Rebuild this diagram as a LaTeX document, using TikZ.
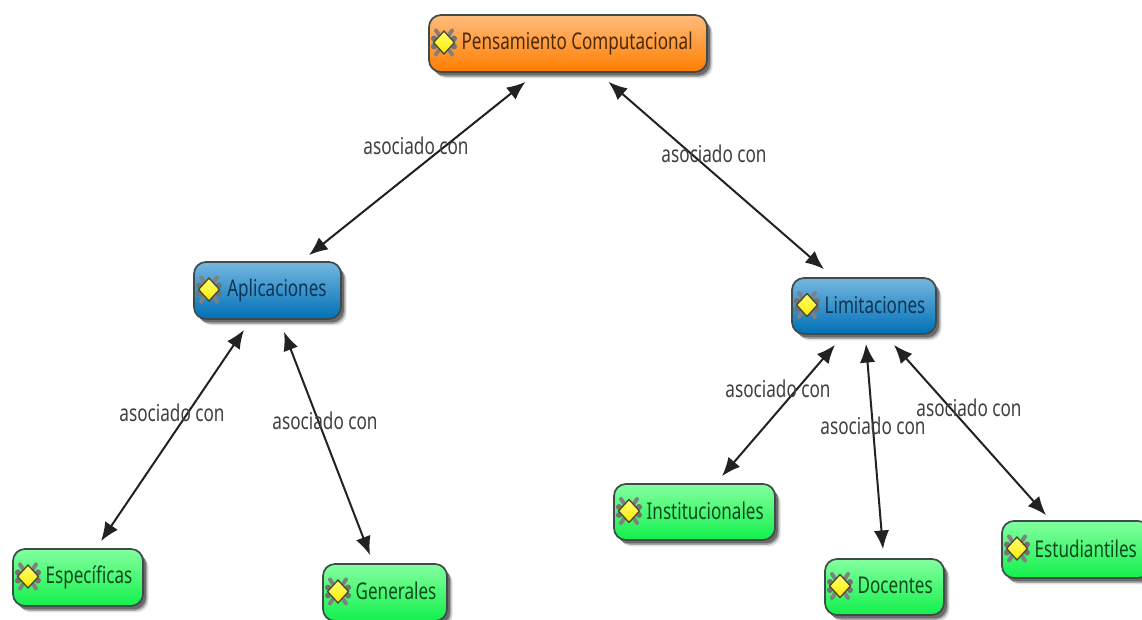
\documentclass[tikz,border=0pt]{standalone}
\usepackage{fontspec}
\setmainfont[FakeStretch=0.74]{Noto Sans}
\usetikzlibrary{arrows.meta,shadows}
\definecolor{linedark}{HTML}{222222}
\definecolor{edgedark}{HTML}{3F4A4A}
\definecolor{ortop}{HTML}{FFBC7C}
\definecolor{orbot}{HTML}{FF7D00}
\definecolor{ortext}{HTML}{4A2A08}
\definecolor{bltop}{HTML}{75B7E0}
\definecolor{blbot}{HTML}{0070B6}
\definecolor{bltext}{HTML}{0B3558}
\definecolor{grtop}{HTML}{84FF9F}
\definecolor{grbot}{HTML}{12F04C}
\definecolor{grtext}{HTML}{0C4A1E}
\tikzset{
  x=0.75pt,y=-0.75pt,
  softshadow/.style={
    general shadow={fill=black,opacity=.12,rounded corners=9pt,shadow xshift=4.2pt,shadow yshift=-4.8pt,shadow scale=1.0},
    general shadow={fill=black,opacity=.25,rounded corners=9pt,shadow xshift=3.2pt,shadow yshift=-3.6pt},
    general shadow={fill=black,opacity=.35,rounded corners=9pt,shadow xshift=2.2pt,shadow yshift=-2.6pt}},
  conceptbox/.style={draw=edgedark,line width=1.3pt,rounded corners=9pt,softshadow,inner xsep=1.5pt,inner ysep=0pt,align=flush left,font=\fontsize{17.3pt}{19pt}\selectfont},
  orangebox/.style={conceptbox,top color=ortop,bottom color=orbot,text=ortext},
  bluebox/.style={conceptbox,top color=bltop,bottom color=blbot,text=bltext},
  greenbox/.style={conceptbox,top color=grtop,bottom color=grbot,text=grtext},
  linklabel/.style={text=black!75,inner sep=0pt,font=\fontsize{17.4pt}{19pt}\selectfont},
  conn/.style={draw=linedark,line width=1.5pt,{Latex[length=14pt,width=11.5pt]}-{Latex[length=14pt,width=11.5pt]}},
  iconbar/.style={draw=black!50,line width=3pt,line cap=round},
  iconknob/.style={fill=black!55,draw=none},
  pics/cicon/.style={code={
    \draw[iconbar] (-8,-12)--(8,12);
    \draw[iconbar] (8,-12)--(-8,12);
    \fill[iconknob] (-10,-4) circle(3) (10,-4) circle(3) (-10,4) circle(3) (10,4) circle(3);
    \path[draw=black!60!olive,line width=1pt,top color=yellow!55!white,bottom color=yellow!85!orange]
      (0,-11.5)--(10.5,0)--(0,11.5)--(-10.5,0)--cycle;
  }},
}
\newcommand{\cbox}[9]{% name, style, left, top, right, bottom, text, iconoffset, raise
  \pgfmathsetmacro{\cx}{(#3+#5)/2}
  \pgfmathsetmacro{\cy}{(#4+#6)/2}
  \pgfmathsetmacro{\cw}{(#5-#3)*0.75}
  \pgfmathsetmacro{\ch}{(#6-#4)*0.75}
  \pgfmathsetmacro{\ct}{(#5-#3)*0.75-3}
  \pgfmathsetmacro{\cix}{#3+15}
  \pgfmathsetmacro{\ciy}{\cy-1}
  \node[#2,minimum width=\cw pt,minimum height=\ch pt,text width=\ct pt] (#1) at (\cx,\cy) {\hspace*{#8pt}\raisebox{#9pt}{#7}};
  \pic at (\cix,\ciy) {cicon};
}
\begin{document}
\begin{tikzpicture}
\clip (0,0) rectangle (1142,620);
\fill[white] (0,0) rectangle (1142,620);
\cbox{pc}{orangebox}{429}{15}{707}{72}{Pensamiento Computacional}{23}{1.2}
\cbox{ap}{bluebox}{194}{262}{341}{319}{Aplicaciones}{23.5}{1.2}
\cbox{lim}{bluebox}{792}{278}{936}{334}{Limitaciones}{23}{1.2}
\cbox{esp}{greenbox}{13}{549}{143}{606}{Específicas}{23}{1.2}
\cbox{gen}{greenbox}{323}{564}{447}{621}{Generales}{23}{3}
\cbox{inst}{greenbox}{614}{484}{775}{540}{Institucionales}{23}{1.2}
\cbox{doc}{greenbox}{825}{559}{944}{615}{Docentes}{23}{2}
\cbox{est}{greenbox}{1002}{521}{1150}{578}{Estudiantiles}{23}{1.2}
\draw[conn] ([shift={(-42.5,9)}]pc.south) -- ([shift={(41.5,-6)}]ap.north);
\draw[conn] ([shift={(40.5,9)}]pc.south) -- ([shift={(-40,-8)}]lim.north);
\draw[conn] ([shift={(-23.5,10)}]ap.south) -- ([shift={(23,-7)}]esp.north);
\draw[conn] ([shift={(16.5,12)}]ap.south) -- ([shift={(-15,-8)}]gen.north);
\draw[conn] ([shift={(-29,10)}]lim.south) -- ([shift={(27.5,-7)}]inst.north);
\draw[conn] ([shift={(2,9)}]lim.south) -- ([shift={(-1.5,-9)}]doc.north);
\draw[conn] ([shift={(30,10)}]lim.south) -- ([shift={(-30,-5)}]est.north);
\node[linklabel] (l1) at (416,146) {asociado con};
\node[linklabel] (l2) at (714,154) {asociado con};
\node[linklabel] (l3) at (172,413) {asociado con};
\node[linklabel] (l4) at (325,421) {asociado con};
\node[linklabel] (l5) at (778,389) {asociado con};
\node[linklabel] (l6) at (873,426) {asociado con};
\node[linklabel] (l7) at (969,408) {asociado con};
\end{tikzpicture}
\end{document}
